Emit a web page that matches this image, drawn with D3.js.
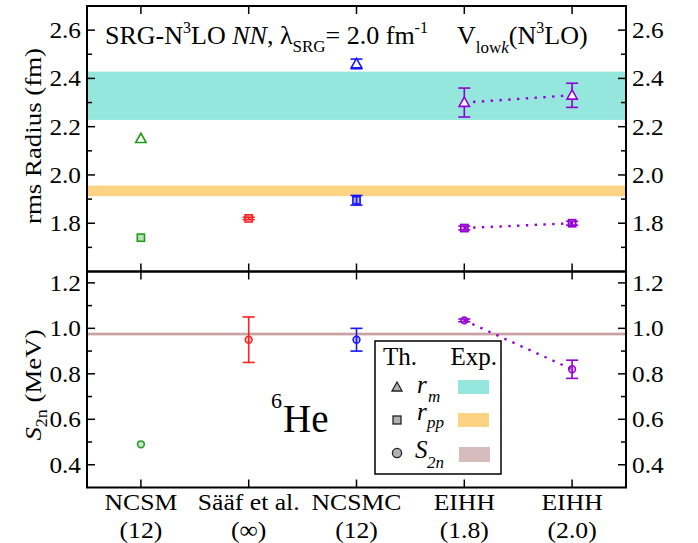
<!DOCTYPE html>
<html>
<head>
<meta charset="utf-8">
<script src="https://cdn.jsdelivr.net/npm/d3@7"></script>
<style>
body { margin: 0; background: #fff; }
text { font-family: "Liberation Serif", "Times New Roman", serif; fill: #000; }
</style>
</head>
<body>
<script>
// data
var methods = ["NCSM", "Sääf et al.", "NCSMC", "EIHH", "EIHH"];
var methodNotes = ["(12)", "(∞)", "(12)", "(1.8)", "(2.0)"];
var colors = ["#1f9a1f", "#ff2020", "#1414ff", "#9400d3", "#9400d3"];

var rmVal  = [2.15, null, 2.46, 2.30, 2.33];
var rmErr  = [0, null, 0.02, 0.06, 0.05];
var rppVal = [1.74, 1.82, 1.895, 1.78, 1.80];
var rppErr = [0, 0.005, 0.02, 0.008, 0.008];
var s2nVal = [0.49, 0.95, 0.95, 1.035, 0.82];
var s2nErr = [0, 0.10, 0.05, 0.006, 0.04];

// experimental bands (low, high)
var expRm  = [2.228, 2.428];
var expRpp = [1.912, 1.956];
var expS2n = [0.969, 0.981];

var radiusTicks = [1.8, 2.0, 2.2, 2.4, 2.6];
var radiusMinor = [1.7, 1.9, 2.1, 2.3, 2.5];
var energyTicks = [0.4, 0.6, 0.8, 1.0, 1.2];
var energyMinor = [0.5, 0.7, 0.9, 1.1];

var width = 698, height = 543;
var plotL = 87, plotR = 626, plotT = 6, plotM = 271.5, plotB = 487.5;

var svg = d3.select("body").append("svg")
    .attr("width", width)
    .attr("height", height);

var x = d3.scaleLinear().domain([0.5, 5.5]).range([plotL, plotR]);
var yTop = d3.scaleLinear().domain([1.6, 2.7]).range([plotM, plotT]);
var yBot = d3.scaleLinear().domain([0.3, 1.25]).range([plotB, plotM]);

//text helper, stretched a bit sideways like the original font
function txt(g, px, py, str, size, anchor, sx){
    return g.append("text")
        .attr("transform", "translate(" + px + "," + py + ") scale(" + (sx || 1) + ",1)")
        .attr("font-size", size)
        .attr("text-anchor", anchor || "start")
        .text(str);
}

// experimental bands
function band(y, ext, color){
    svg.append("rect")
        .attr("x", plotL).attr("width", plotR - plotL)
        .attr("y", y(ext[1]))
        .attr("height", y(ext[0]) - y(ext[1]))
        .attr("fill", color);
}
band(yTop, expRm, "#95e7de");
band(yTop, expRpp, "#fcd283");
band(yBot, expS2n, "#c9a2a4");

// frames
svg.append("rect").attr("x", plotL).attr("y", plotT)
    .attr("width", plotR - plotL).attr("height", plotM - plotT)
    .attr("fill", "none").attr("stroke", "#000").attr("stroke-width", 2);
svg.append("rect").attr("x", plotL).attr("y", plotM)
    .attr("width", plotR - plotL).attr("height", plotB - plotM)
    .attr("fill", "none").attr("stroke", "#000").attr("stroke-width", 2);

// y ticks, both sides
function yTicks(y, major, minor){
    var all = major.map(function(v){ return [v, 8]; })
        .concat(minor.map(function(v){ return [v, 5]; }));
    all.forEach(function(t){
        svg.append("line").attr("x1", plotL).attr("x2", plotL + t[1])
            .attr("y1", y(t[0])).attr("y2", y(t[0]))
            .attr("stroke", "#000").attr("stroke-width", 1.5);
        svg.append("line").attr("x1", plotR).attr("x2", plotR - t[1])
            .attr("y1", y(t[0])).attr("y2", y(t[0]))
            .attr("stroke", "#000").attr("stroke-width", 1.5);
    });
    major.forEach(function(v){
        txt(svg, plotL - 6, y(v) + 8, d3.format(".1f")(v), 23, "end", 1.1);
        txt(svg, plotR + 6, y(v) + 8, d3.format(".1f")(v), 23, "start", 1.1);
    });
}
yTicks(yTop, radiusTicks, radiusMinor);
yTicks(yBot, energyTicks, energyMinor);

// x ticks on every horizontal edge
methods.forEach(function(m, i){
    var cx = x(i + 1);
    [[plotT, 8], [plotM, -8], [plotM, 8], [plotB, -8]].forEach(function(t){
        svg.append("line").attr("x1", cx).attr("x2", cx)
            .attr("y1", t[0]).attr("y2", t[0] + t[1])
            .attr("stroke", "#000").attr("stroke-width", 1.5);
    });
    txt(svg, cx, 510, m, 24, "middle", 1.07);
    txt(svg, cx, 538, methodNotes[i], 24, "middle", 1.07);
});

// axis titles
svg.append("text")
    .attr("transform", "translate(41,136) rotate(-90) scale(1.12,1)")
    .attr("font-size", 24).attr("text-anchor", "middle")
    .text("rms Radius (fm)");
var s2t = svg.append("text")
    .attr("transform", "translate(41,385) rotate(-90) scale(1.12,1)")
    .attr("font-size", 24).attr("text-anchor", "middle");
s2t.append("tspan").attr("font-style", "italic").text("S");
s2t.append("tspan").attr("font-size", 16).attr("dy", 6).text("2n");
s2t.append("tspan").attr("dy", -6).text(" (MeV)");

// headings
var t1 = svg.append("text").attr("x", 105).attr("y", 44).attr("font-size", 26);
t1.append("tspan").text("SRG-N");
t1.append("tspan").attr("font-size", 16).attr("dy", -11).text("3");
t1.append("tspan").attr("dy", 11).text("LO ");
t1.append("tspan").attr("font-style", "italic").text("NN");
t1.append("tspan").text(", λ");
t1.append("tspan").attr("font-size", 17).attr("dy", 8).text("SRG");
t1.append("tspan").attr("dy", -8).text("= 2.0 fm");
t1.append("tspan").attr("font-size", 16).attr("dy", -11).text("-1");

var t2 = svg.append("text").attr("x", 457).attr("y", 44).attr("font-size", 26);
t2.append("tspan").text("V");
t2.append("tspan").attr("font-size", 17).attr("dy", 9).text("low");
t2.append("tspan").attr("font-size", 17).attr("font-style", "italic").text("k");
t2.append("tspan").attr("dy", -9).text("(N");
t2.append("tspan").attr("font-size", 16).attr("dy", -11).text("3");
t2.append("tspan").attr("dy", 11).text("LO)");

// 6He label
txt(svg, 271, 408, "6", 22, "start");
txt(svg, 283, 432, "He", 39, "start");

// dotted lines joining the two EIHH results
function joinEIHH(y, vals){
    svg.append("path")
        .attr("d", d3.line()([[x(4), y(vals[3])], [x(5), y(vals[4])]]))
        .attr("stroke", colors[3]).attr("stroke-width", 2.4)
        .attr("stroke-dasharray", "2.4,6.4").attr("fill", "none");
}
joinEIHH(yTop, rmVal);
joinEIHH(yTop, rppVal);
joinEIHH(yBot, s2nVal);

// error bars
function errBars(y, vals, errs){
    vals.forEach(function(v, i){
        if (v === null || !errs[i]) return;
        var cx = x(i + 1), g = svg.append("g")
            .attr("stroke", colors[i]).attr("stroke-width", 1.6);
        g.append("line").attr("x1", cx).attr("x2", cx)
            .attr("y1", y(v - errs[i])).attr("y2", y(v + errs[i]));
        [v - errs[i], v + errs[i]].forEach(function(e){
            g.append("line").attr("x1", cx - 6).attr("x2", cx + 6)
                .attr("y1", y(e)).attr("y2", y(e));
        });
    });
}
errBars(yTop, rmVal, rmErr);
errBars(yTop, rppVal, rppErr);
errBars(yBot, s2nVal, s2nErr);

var triPath = "M0,-5.5L5.2,3.8L-5.2,3.8Z";

// markers
rmVal.forEach(function(v, i){
    if (v === null) return;
    svg.append("path").attr("d", triPath)
        .attr("transform", "translate(" + x(i + 1) + "," + yTop(v) + ")")
        .attr("fill", "#fff").attr("stroke", colors[i]).attr("stroke-width", 1.6);
});
rppVal.forEach(function(v, i){
    svg.append("rect")
        .attr("x", x(i + 1) - 3.6).attr("y", yTop(v) - 3.6)
        .attr("width", 7.2).attr("height", 7.2)
        .attr("fill", colors[i]).attr("fill-opacity", 0.3)
        .attr("stroke", colors[i]).attr("stroke-width", 1.6);
});
s2nVal.forEach(function(v, i){
    svg.append("circle")
        .attr("cx", x(i + 1)).attr("cy", yBot(v)).attr("r", 3.4)
        .attr("fill", colors[i]).attr("fill-opacity", 0.25)
        .attr("stroke", colors[i]).attr("stroke-width", 1.5);
});

// legend
var lg = svg.append("g");
lg.append("rect").attr("x", 375).attr("y", 341).attr("width", 126).attr("height", 133)
    .attr("fill", "#fff").attr("stroke", "#000").attr("stroke-width", 1.5);
txt(lg, 383, 365, "Th.", 25, "start");
txt(lg, 497, 365, "Exp.", 25, "end");

lg.append("path").attr("d", "M0,-5L5,4L-5,4Z")
    .attr("transform", "translate(397,387)")
    .attr("fill", "#b0b0b0").attr("stroke", "#222").attr("stroke-width", 1.3);
lg.append("rect").attr("x", 393).attr("y", 416).attr("width", 8).attr("height", 8)
    .attr("fill", "#b0b0b0").attr("stroke", "#222").attr("stroke-width", 1.3);
lg.append("circle").attr("cx", 397).attr("cy", 453).attr("r", 4.6)
    .attr("fill", "#b0b0b0").attr("stroke", "#222").attr("stroke-width", 1.3);

txt(lg, 417, 393, "r", 25, "start").attr("font-style", "italic");
txt(lg, 428, 402, "m", 17, "start").attr("font-style", "italic");
txt(lg, 417, 420, "r", 25, "start").attr("font-style", "italic");
txt(lg, 427, 428, "pp", 17, "start").attr("font-style", "italic");
txt(lg, 415, 458, "S", 25, "start").attr("font-style", "italic");
txt(lg, 427, 468, "2n", 17, "start").attr("font-style", "italic");

lg.append("rect").attr("x", 458).attr("y", 380).attr("width", 31).attr("height", 14)
    .attr("fill", "#95e7de");
lg.append("rect").attr("x", 458).attr("y", 413).attr("width", 31).attr("height", 14)
    .attr("fill", "#fcd283");
lg.append("rect").attr("x", 459).attr("y", 447).attr("width", 31).attr("height", 15)
    .attr("fill", "#d7bcbe");
</script>
</body>
</html>
